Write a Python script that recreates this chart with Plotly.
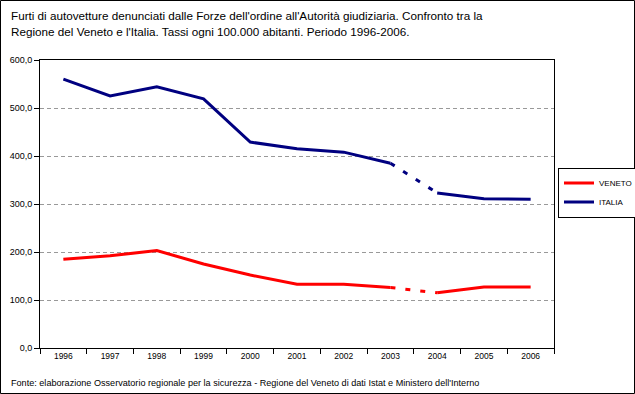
import plotly.graph_objects as go

years = ["1996", "1997", "1998", "1999", "2000", "2001", "2002", "2003", "2004", "2005", "2006"]
veneto = [185, 192, 203, 175, 152, 133, 133, 126, 115, 127, 127]
italia = [560, 525, 544, 519, 429, 415, 408, 385, 323, 311, 310]
y_ticks = [0, 100, 200, 300, 400, 500, 600]

title_lines = [
    "Furti di autovetture denunciati dalle Forze dell'ordine all'Autorità giudiziaria. Confronto tra la",
    "Regione del Veneto e l'Italia. Tassi ogni 100.000 abitanti. Periodo 1996-2006.",
]
footer = "Fonte: elaborazione Osservatorio regionale per la sicurezza - Regione del Veneto di dati Istat e Ministero dell'Interno"

RED = "#FF0000"
NAVY = "#000080"
FONT = "Liberation Sans"

L, R, T, B = 40, 81, 60, 46
W, H = 635, 394
PW, PH = W - L - R, H - T - B

def px_x(x):
    return (x - L) / PW

def px_y(y):
    return (H - B - y) / PH

fig = go.Figure()

def add_series(name, vals, color):
    fig.add_trace(go.Scatter(x=years[:8], y=vals[:8], mode="lines", name=name,
                             line=dict(color=color, width=3), legendgroup=name,
                             showlegend=True))
    fig.add_trace(go.Scatter(x=years[7:9], y=vals[7:9], mode="lines", name=name,
                             line=dict(color=color, width=3, dash="5px,10px"),
                             legendgroup=name, showlegend=False))
    fig.add_trace(go.Scatter(x=years[8:], y=vals[8:], mode="lines", name=name,
                             line=dict(color=color, width=3), legendgroup=name,
                             showlegend=False))

add_series("VENETO", veneto, RED)
add_series("ITALIA", italia, NAVY)

fig.update_layout(
    width=W, height=H,
    margin=dict(l=L, r=R, t=T, b=B, autoexpand=False),
    paper_bgcolor="white", plot_bgcolor="white",
    font=dict(family=FONT, size=10, color="black"),
    separators=",.",
    showlegend=True,
    legend=dict(x=px_x(558), y=px_y(192.5), xanchor="left", yanchor="middle",
                bordercolor="black", borderwidth=1, bgcolor="white",
                font=dict(family=FONT, size=8), tracegroupgap=0,
                itemwidth=30),
    xaxis=dict(type="category", categoryorder="array", categoryarray=years,
               showline=True, linecolor="black", linewidth=1, mirror=True,
               ticks="outside", ticklen=5, tickcolor="black", tickson="boundaries",
               showgrid=False, tickfont=dict(family=FONT, size=8.5),
               range=[-0.5, 10.5]),
    yaxis=dict(range=[0, 600], tickvals=y_ticks, tickformat=".1f",
               showline=True, linecolor="black", linewidth=1, mirror=True,
               ticks="outside", ticklen=5, tickcolor="black",
               showgrid=True, gridcolor="#999999", griddash="4px,3px", gridwidth=1,
               zeroline=False, tickfont=dict(family=FONT, size=9)),
)

for t, ypx in zip(title_lines, [15, 31]):
    fig.add_annotation(text=t, xref="paper", yref="paper", x=px_x(9), y=px_y(ypx),
                       xanchor="left", yanchor="middle", showarrow=False,
                       font=dict(family=FONT, size=11.7, color="black"))

fig.add_annotation(text=footer, xref="paper", yref="paper", x=px_x(9), y=px_y(383),
                   xanchor="left", yanchor="middle", showarrow=False,
                   font=dict(family=FONT, size=9.1, color="black"))

fig.add_shape(type="rect", xref="paper", yref="paper",
              x0=px_x(0.5), x1=px_x(634.5), y0=px_y(393.5), y1=px_y(0.5),
              line=dict(color="black", width=1))

fig.write_html("out.html", config={"displayModeBar": False},
               post_script="document.body.style.margin='0px';document.body.style.overflow='hidden';")
